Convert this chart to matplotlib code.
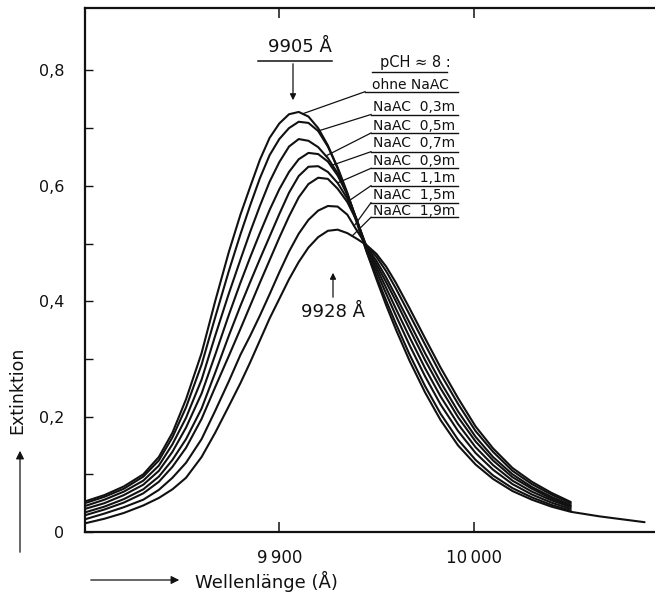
import matplotlib
matplotlib.use("Agg")
import matplotlib.pyplot as plt
import numpy as np

# wavelength grid (Angstrom) and extinction of the eight curves
wl = [9800, 9810, 9820, 9830, 9838, 9845, 9852, 9860, 9867, 9874, 9880, 9885, 9890,
      9895, 9900, 9905, 9910, 9915, 9920, 9925, 9930, 9935, 9940, 9945, 9950, 9955,
      9960, 9967, 9975, 9983, 9992, 10001, 10010, 10020, 10030, 10040, 10050]
wl_tail = [10065, 10088]

ohne = [.053, .064, .079, .100, .130, .172, .230, .310, .400, .485, .550, .598, .645,
        .683, .708, .724, .728, .720, .700, .670, .630, .585, .535, .485, .438, .393,
        .351, .297, .242, .194, .150, .117, .092, .071, .056, .044, .035]
ohne_tail = [.027, .017]
naac_03 = [.050, .061, .075, .096, .124, .164, .216, .290, .372, .452, .516, .566, .613,
           .653, .681, .700, .711, .709, .695, .668, .632, .588, .538, .486, .443, .401,
           .361, .308, .253, .205, .160, .125, .098, .076, .060, .047, .037]
naac_05 = [.045, .056, .070, .089, .115, .152, .198, .264, .340, .413, .472, .520, .565,
           .607, .641, .668, .681, .678, .667, .648, .622, .585, .538, .489, .451, .413,
           .375, .324, .270, .221, .175, .137, .108, .083, .065, .051, .040]
naac_07 = [.040, .050, .064, .082, .106, .139, .181, .240, .307, .376, .432, .476, .518,
           .558, .594, .624, .646, .657, .655, .642, .618, .585, .540, .490, .458, .423,
           .387, .338, .284, .235, .187, .147, .116, .089, .070, .055, .043]
naac_09 = [.034, .044, .057, .074, .096, .125, .161, .214, .276, .340, .392, .433, .473,
           .512, .551, .588, .617, .633, .634, .624, .605, .578, .540, .492, .464, .433,
           .400, .352, .298, .249, .199, .157, .124, .095, .075, .058, .045]
naac_11 = [.029, .039, .051, .067, .087, .113, .146, .196, .251, .305, .352, .392, .432,
           .471, .510, .547, .580, .603, .614, .612, .595, .572, .538, .494, .470, .441,
           .409, .363, .310, .260, .209, .165, .130, .100, .078, .061, .047]
naac_15 = [.022, .032, .043, .056, .073, .094, .120, .161, .210, .261, .307, .340, .375,
           .412, .450, .486, .517, .541, .557, .565, .564, .550, .522, .496, .477, .452,
           .422, .377, .325, .274, .222, .175, .139, .106, .083, .065, .050]
naac_19 = [.015, .023, .033, .046, .059, .074, .094, .130, .172, .218, .258, .294, .332,
           .370, .404, .438, .468, .493, .511, .522, .524, .518, .508, .497, .482, .460,
           .432, .388, .336, .285, .232, .183, .145, .111, .087, .068, .052]

labels = ["ohne NaAC", "NaAC  0,3m", "NaAC  0,5m", "NaAC  0,7m", "NaAC  0,9m",
          "NaAC  1,1m", "NaAC  1,5m", "NaAC  1,9m"]
lead_wl = [9912, 9920, 9924, 9926.5, 9930, 9935, 9938.5, 9937.5]

y_ticks = [0, 0.2, 0.4, 0.6, 0.8]
y_ticklabels = ["0", "0,2", "0,4", "0,6", "0,8"]
x_ticks = [9900, 10000]
x_ticklabels = ["9\u2009900", "10\u2009000"]

ink = "#111111"
W, H = 655, 596

fig = plt.figure(figsize=(W / 100, H / 100), dpi=100)
ax = fig.add_axes([85 / W, 64 / H, 570 / W, 524.5 / H])

curves = [ohne, naac_03, naac_05, naac_07, naac_09, naac_11, naac_15, naac_19]
for i, ys in enumerate(curves):
    if i == 0:
        xs, ys = wl + wl_tail, ys + ohne_tail
    else:
        xs = wl
    ax.plot(xs, ys, color=ink, lw=1.5, solid_joinstyle="round", solid_capstyle="round")

ax.set_xlim(9800, 9800 + 570 / 1.943)
ax.set_ylim(0, 524.5 / 577)

for s in ["left", "bottom", "top"]:
    ax.spines[s].set_linewidth(1.6)
    ax.spines[s].set_color(ink)
ax.spines["right"].set_visible(False)

ax.set_xticks(x_ticks)
ax.set_xticklabels(x_ticklabels)
ax.set_yticks(y_ticks)
ax.set_yticklabels(y_ticklabels)
ax.set_yticks([0.1, 0.3, 0.5, 0.7], minor=True)
ax.tick_params(axis="x", direction="in", length=7, width=1.1, top=True, pad=12,
               labelsize=12, colors=ink)
ax.tick_params(axis="y", which="both", direction="in", length=6, width=1.0, pad=15,
               labelsize=11.5, colors=ink)


def px(x, y):
    # picture pixel (from top-left) -> data coords
    return ax.transData.inverted().transform((x, H - y))


# labels with underlines and leader lines to the curves
text_y = [85, 107, 125.7, 143, 160.7, 178, 195, 210.7]
ul_y = [91.7, 114.5, 133, 151.7, 168.3, 185.7, 202.7, 217.3]
for i, lab in enumerate(labels):
    tx, ty = px(372 if i == 0 else 373, text_y[i])
    ax.text(tx, ty, lab, fontsize=10, color=ink, va="center", ha="left")
    x0 = 365 if i == 0 else 371
    a = px(x0, ul_y[i])
    b = px(458, ul_y[i])
    ax.plot([a[0], b[0]], [a[1], b[1]], color=ink, lw=1.0)
    yc = np.interp(lead_wl[i], wl, curves[i])
    ax.plot([a[0], lead_wl[i]], [a[1], yc], color=ink, lw=0.9)

tx, ty = px(380, 62)
ax.text(tx, ty, "pCH \u2248 8 :", fontsize=10.5, color=ink, va="center", ha="left")
a, b = px(372, 71.5), px(447, 71.5)
ax.plot([a[0], b[0]], [a[1], b[1]], color=ink, lw=1.0)

# peak markers
tx, ty = px(300, 47)
ax.text(tx, ty, "9905 \u00c5", fontsize=13, color=ink, va="center", ha="center")
a, b = px(258, 61), px(332, 61)
ax.plot([a[0], b[0]], [a[1], b[1]], color=ink, lw=1.1)
ax.annotate("", xy=px(293, 103), xytext=px(293, 61),
            arrowprops=dict(arrowstyle="-|>", color=ink, lw=0.9, mutation_scale=9))

tx, ty = px(333, 312)
ax.text(tx, ty, "9928 \u00c5", fontsize=13, color=ink, va="center", ha="center")
ax.annotate("", xy=px(333, 270), xytext=px(333, 300),
            arrowprops=dict(arrowstyle="-|>", color=ink, lw=0.9, mutation_scale=9))

# axis titles with arrows
fig.text(195 / W, 1 - 581 / H, "Wellenl\u00e4nge (\u00c5)", fontsize=13, color=ink,
         va="center", ha="left")
fig.add_artist(matplotlib.patches.FancyArrowPatch(
    (88 / W, 1 - 580 / H), (182 / W, 1 - 580 / H), transform=fig.transFigure,
    arrowstyle="-|>", mutation_scale=12, color=ink, lw=0.9))
fig.text(17 / W, 1 - 390 / H, "Extinktion", fontsize=12.5, color=ink, rotation=90,
         va="center", ha="center")
fig.add_artist(matplotlib.patches.FancyArrowPatch(
    (20 / W, 1 - 555 / H), (20 / W, 1 - 448 / H), transform=fig.transFigure,
    arrowstyle="-|>", mutation_scale=12, color=ink, lw=0.9))

fig.savefig("out.png", dpi=100)
